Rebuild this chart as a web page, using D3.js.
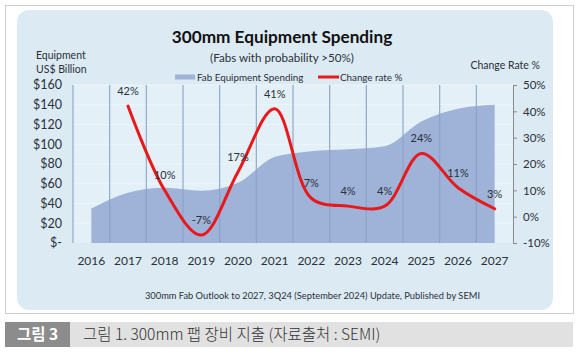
<!DOCTYPE html>
<html><head><meta charset="utf-8">
<script src="https://cdn.jsdelivr.net/npm/d3@7"></script>
<style>html,body{margin:0;padding:0;background:#fff;}svg{display:block;}</style>
</head><body>
<svg id="c" width="579" height="356"></svg>
<script>
const years = ["2016","2017","2018","2019","2020","2021","2022","2023","2024","2025","2026","2027"];
const spending = [35, 51, 56, 53, 61, 87, 93, 95, 98, 123, 136, 140];
const rateYears = ["2017","2018","2019","2020","2021","2022","2023","2024","2025","2026","2027"];
const changeRate = [42, 10, -7, 17, 41, 7, 4, 4, 24, 11, 3];
const leftTicks = [0, 20, 40, 60, 80, 100, 120, 140, 160];
const rightTicks = [-10, 0, 10, 20, 30, 40, 50];

const svg = d3.select("#c");
const F = "Lato, 'Open Sans', sans-serif";
const txt = "#2b2f3a";

// outer frame and panel
svg.append("rect").attr("x",5.5).attr("y",5.5).attr("width",568).attr("height",308)
  .attr("fill","#fff").attr("stroke","#cfcfcf");
svg.append("rect").attr("x",17).attr("y",10).attr("width",536).attr("height",300)
  .attr("rx",12).attr("fill","#dcebf3");

const x = d3.scaleBand().domain(years).range([73,513]).padding(0);
const yL = d3.scaleLinear().domain([0,160]).range([243,85]);
const yR = d3.scaleLinear().domain([-10,50]).range([243,85]);
const cx = d => x(d) + x.bandwidth()/2;

// plot background
svg.append("rect").attr("x",73).attr("y",85).attr("width",440).attr("height",158).attr("fill","#e3f0f7");

// horizontal gridlines
svg.append("g").selectAll("line").data(leftTicks.slice(1)).join("line")
  .attr("x1",73).attr("x2",513).attr("y1",d=>yL(d)).attr("y2",d=>yL(d))
  .attr("stroke","#eef6fa").attr("stroke-width",1);

// area
const area = d3.area().x((d,i)=>cx(years[i])).y0(yL(0)).y1(d=>yL(d)).curve(d3.curveMonotoneX);
svg.append("path").datum(spending).attr("d",area).attr("fill","#9fb3d8");

// vertical gridlines (band boundaries)
const bounds = years.map(d=>x(d));
svg.append("g").selectAll("line").data(bounds).join("line")
  .attr("x1",d=>d).attr("x2",d=>d).attr("y1",85).attr("y2",243)
  .attr("stroke","#8aa2c8").attr("stroke-width",1.2).attr("opacity",0.9);

// line
const line = d3.line().x((d,i)=>cx(rateYears[i])).y(d=>yR(d)).curve(d3.curveCatmullRom.alpha(0.5));
svg.append("path").datum(changeRate).attr("d",line).attr("fill","none")
  .attr("stroke","#e8191b").attr("stroke-width",3).attr("stroke-linecap","round");

// data labels
svg.append("g").selectAll("text").data(changeRate).join("text")
  .attr("x",(d,i)=>cx(rateYears[i])).attr("y",d=>yR(d)-11)
  .attr("text-anchor","middle").attr("font-family",F).attr("font-size",11).attr("fill",txt)
  .text(d=>d+"%");

// left axis labels
const fmt = d => d===0 ? "$-" : "$"+d;
svg.append("g").selectAll("text").data(leftTicks).join("text")
  .attr("x",62).attr("y",d=>yL(d)).attr("dy","0.35em").attr("text-anchor","end")
  .attr("font-family",F).attr("font-size",12.5).attr("fill",txt).text(fmt);

// right axis
const gR = svg.append("g").attr("transform","translate(513,0)")
  .call(d3.axisRight(yR).tickValues(rightTicks).tickSize(4).tickPadding(6).tickFormat(d=>d+"%"));
gR.select(".domain").attr("stroke","#8a8a8a");
gR.selectAll(".tick line").attr("stroke","#8a8a8a");
gR.selectAll("text").attr("font-family",F).attr("font-size",11.5).attr("fill",txt);

// x labels
svg.append("g").selectAll("text").data(years).join("text")
  .attr("x",d=>cx(d)).attr("y",265).attr("text-anchor","middle")
  .attr("font-family",F).attr("font-size",12).attr("fill",txt).text(d=>d);

// titles
svg.append("text").attr("x",282).attr("y",43).attr("text-anchor","middle")
  .attr("font-family",F).attr("font-weight","bold").attr("font-size",17.2).attr("fill","#111").text("300mm Equipment Spending");
svg.append("text").attr("x",282).attr("y",62).attr("text-anchor","middle")
  .attr("font-family",F).attr("font-size",11.6).attr("fill",txt).text("(Fabs with probability >50%)");
svg.append("text").attr("x",36).attr("y",59).attr("font-family",F).attr("font-size",10.5).attr("fill",txt).text("Equipment");
svg.append("text").attr("x",36).attr("y",73).attr("font-family",F).attr("font-size",10.5).attr("fill",txt).text("US$ Billion");
svg.append("text").attr("x",540).attr("y",69).attr("text-anchor","end").attr("font-family",F).attr("font-size",10.5).attr("fill",txt).text("Change Rate %");

// legend
svg.append("rect").attr("x",175).attr("y",74.5).attr("width",20).attr("height",5).attr("fill","#9fb3d8");
svg.append("text").attr("x",197).attr("y",81).attr("font-family",F).attr("font-size",9.8).attr("fill",txt).text("Fab Equipment Spending");
svg.append("line").attr("x1",318).attr("x2",339).attr("y1",77).attr("y2",77).attr("stroke","#e8191b").attr("stroke-width",3);
svg.append("text").attr("x",340).attr("y",81).attr("font-family",F).attr("font-size",9.8).attr("fill",txt).text("Change rate %");

// footer
svg.append("text").attr("x",312.5).attr("y",299).attr("text-anchor","middle").attr("font-family",F).attr("font-size",9.3).attr("fill",txt)
  .text("300mm Fab Outlook to 2027, 3Q24 (September 2024) Update, Published by SEMI");

// caption bar
svg.append("rect").attr("x",5).attr("y",322).attr("width",568).attr("height",25).attr("fill","#e1e1e1");
svg.append("rect").attr("x",5).attr("y",322).attr("width",65).attr("height",25).attr("fill","#8c8c8c");
svg.append("text").attr("x",37.5).attr("y",340).attr("text-anchor","middle").attr("font-family","'Noto Sans CJK KR', sans-serif")
  .attr("font-size",15.5).attr("font-weight","bold").attr("fill","#fff").text("그림 3");
svg.append("text").attr("x",83).attr("y",340).attr("font-family","'Noto Sans CJK KR', sans-serif")
  .attr("font-size",15.5).attr("font-weight",300).attr("fill","#333").text("그림 1. 300mm 팹 장비 지출 (자료출처 : SEMI)");
</script>
</body></html>
